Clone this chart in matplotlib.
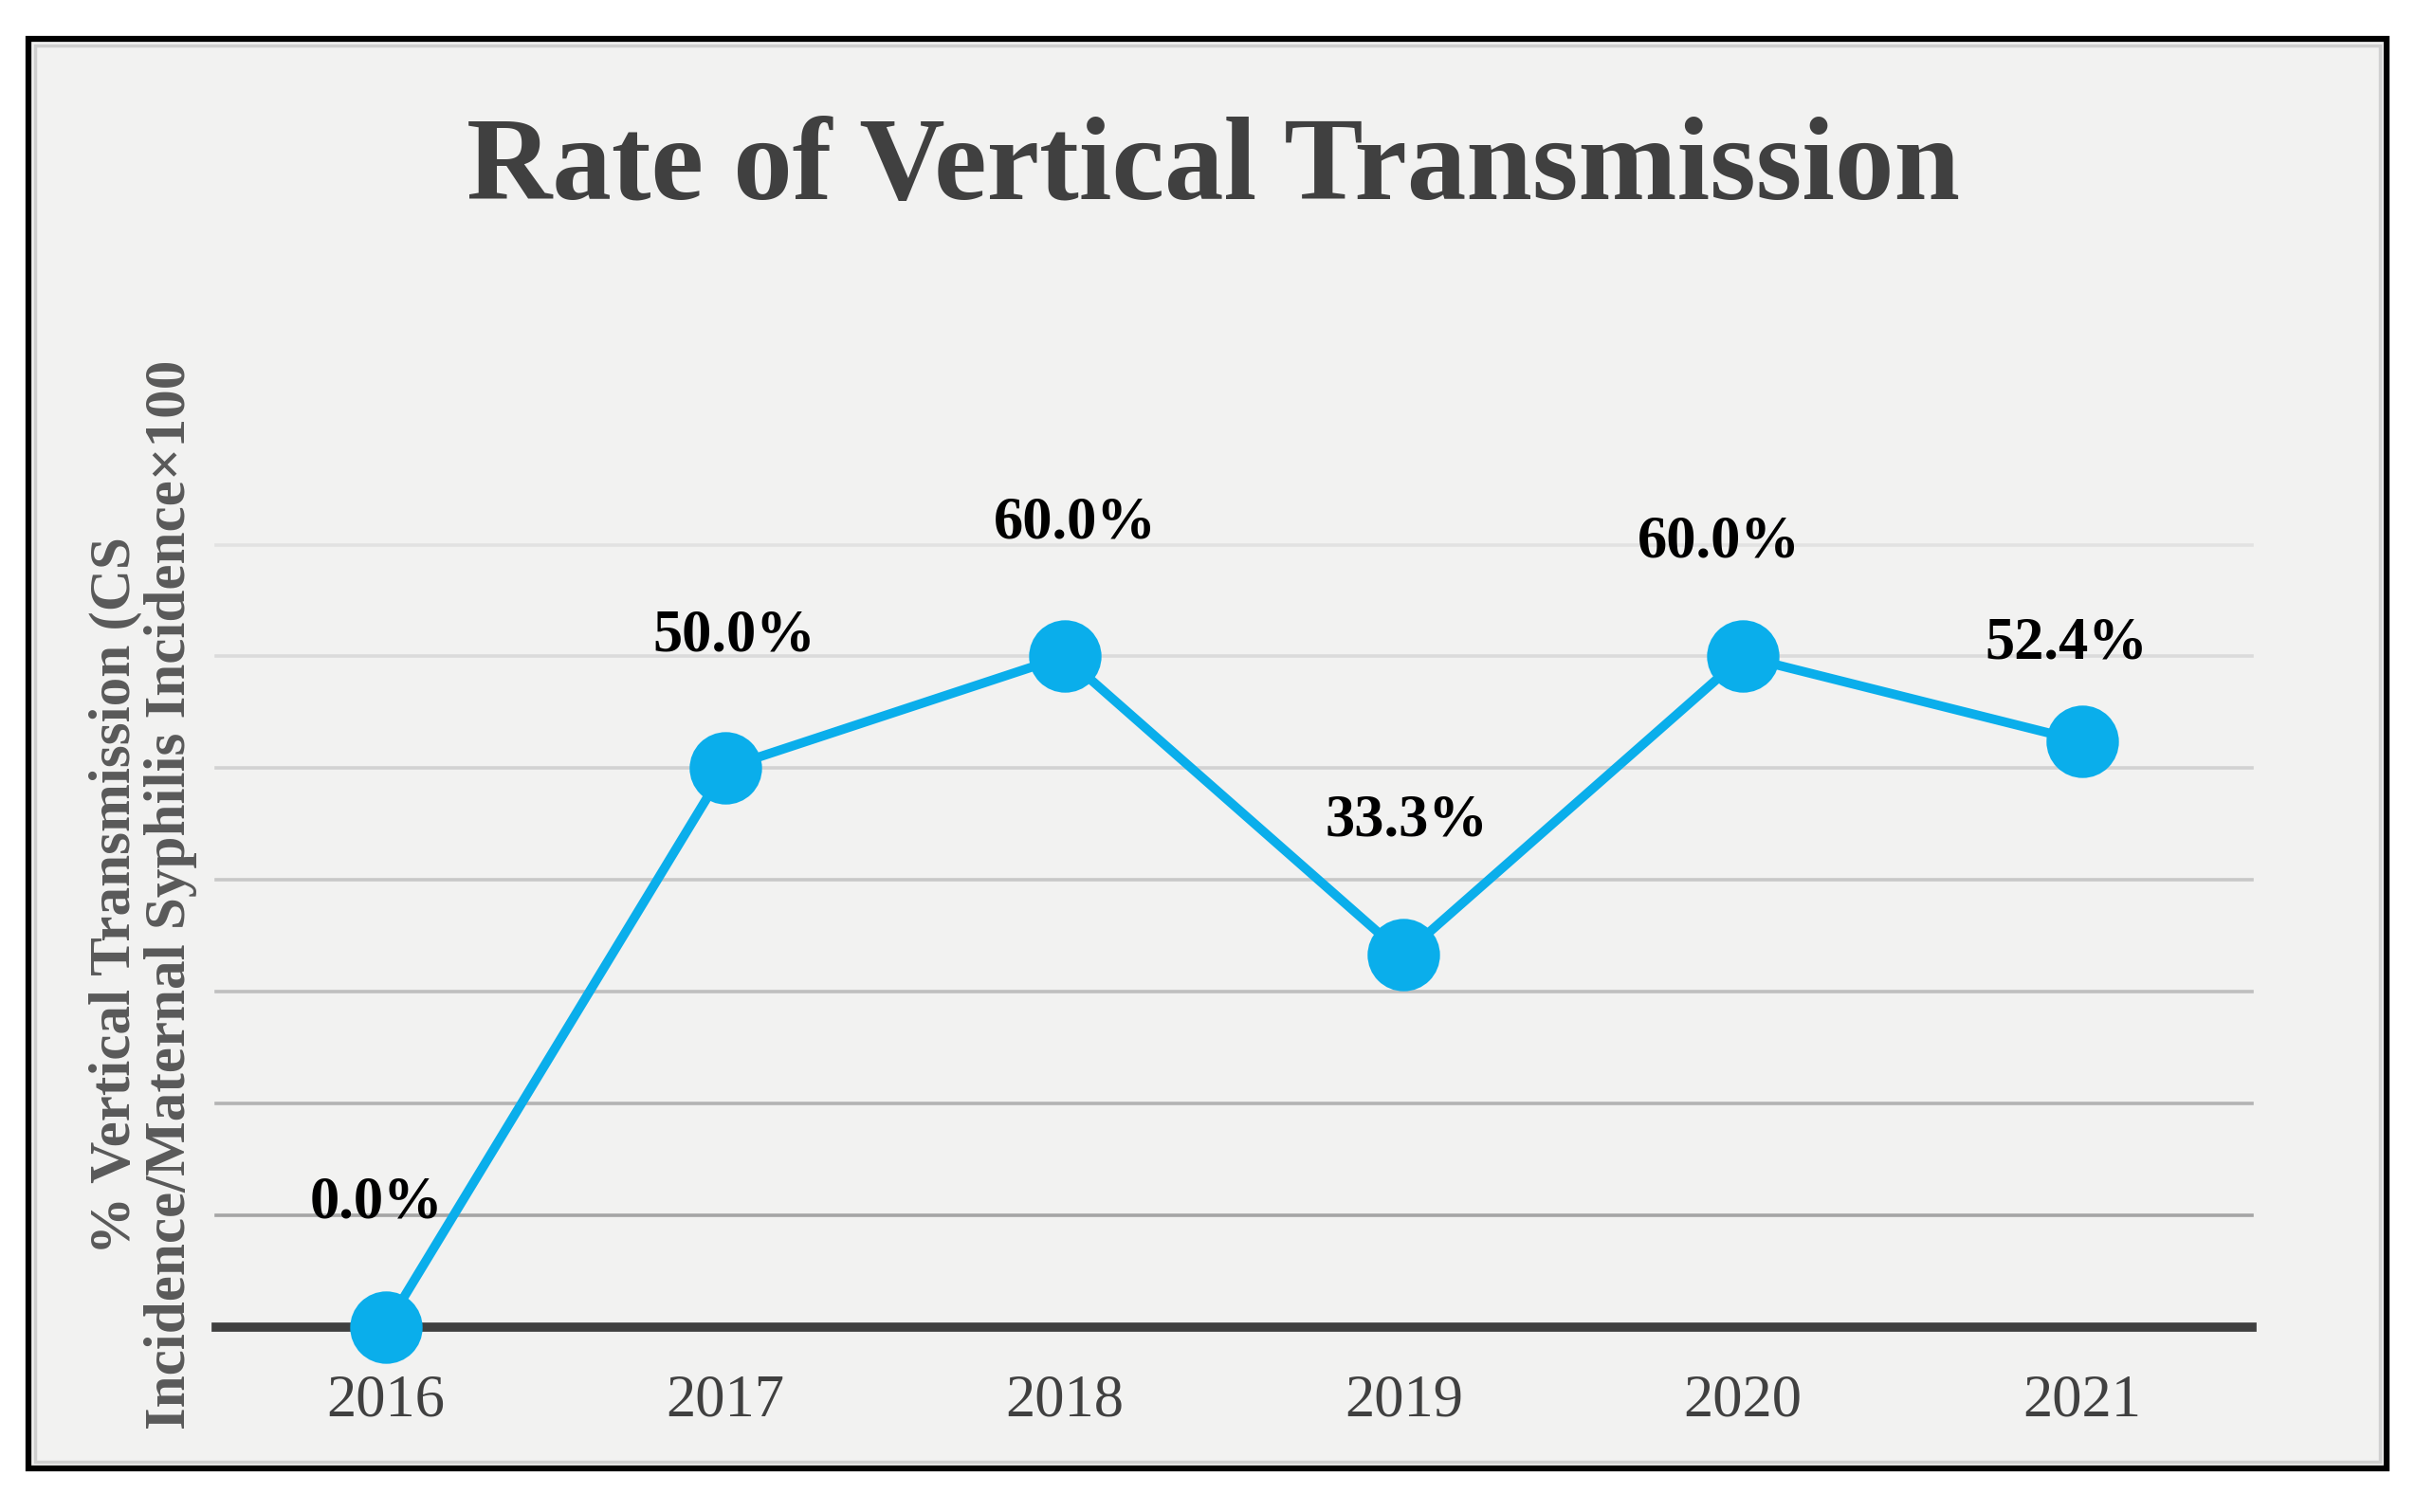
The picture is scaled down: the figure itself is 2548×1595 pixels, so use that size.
import numpy as np
import matplotlib.pyplot as plt
from matplotlib.patches import Rectangle

# data
years = ['2016', '2017', '2018', '2019', '2020', '2021']
rates = [0.0, 50.0, 60.0, 33.3, 60.0, 52.4]
grid_vals = [10, 20, 30, 40, 50, 60, 70]

title = 'Rate of Vertical Transmission'
ylabel = '% Vertical Transmission (CS\nIncidence/Maternal Syphilis Incidence\u00d7100'

# hand-placed label nudges (points)
label_dx = [-7, 7, 8, 2, -18, -12]
label_dy = [94, 100, 101, 101, 86, 74]

plt.rcParams['font.family'] = ['Liberation Serif', 'DejaVu Serif']

fig = plt.figure(figsize=(25.48, 15.95), dpi=100)
fig.patch.set_facecolor('white')

# framed background
fig.patches.append(Rectangle((0.0118, 0.029), 0.976, 0.945, transform=fig.transFigure,
                             facecolor='#f2f2f1', edgecolor='black', lw=4.5, zorder=0))
fig.patches.append(Rectangle((0.0145, 0.033), 0.9705, 0.937, transform=fig.transFigure,
                             facecolor='none', edgecolor='#cfcfcf', lw=2.5, zorder=0))

ax = fig.add_axes([0.0895, 0.1224, 0.8425, 0.5174])
ax.set_zorder(3)
ax.set_facecolor('none')
for s in ax.spines.values():
    s.set_visible(False)

x = np.arange(len(years))
ax.set_xlim(-0.5, len(years) - 0.5)
ax.set_ylim(0, 70)

# gridlines get darker toward the bottom
cols = plt.cm.Greys(np.linspace(0.45, 0.2, len(grid_vals)))
for v, c in zip(grid_vals, cols):
    ax.axhline(v, color=c, lw=2.6, zorder=1, clip_on=False)
ax.axhline(0, color='#404040', lw=7, zorder=2, clip_on=False)

ax.plot(x, rates, color='#0aaeeb', lw=7, marker='o', ms=55,
        markerfacecolor='#0aaeeb', markeredgewidth=0, zorder=5, clip_on=False)

for xi, r, dx, dy in zip(x, rates, label_dx, label_dy):
    ax.annotate(f'{r:.1f}%', (xi, r), xytext=(dx, dy), textcoords='offset points',
                ha='center', va='center', fontsize=45, fontweight='bold',
                color='black', zorder=6)

ax.set_xticks(x)
ax.set_xticklabels(years, fontsize=45, color='#404040')
ax.tick_params(axis='x', length=0, pad=36)
ax.set_yticks([])

fig.text(0.502, 0.887, title, ha='center', va='center', fontsize=90,
         fontweight='bold', color='#404040')
fig.text(0.0594, 0.408, ylabel, rotation=90, ha='center', va='center',
         fontsize=44, fontweight='bold', color='#595959', linespacing=1.05,
         multialignment='center')

fig.savefig('out.png', dpi=100)
